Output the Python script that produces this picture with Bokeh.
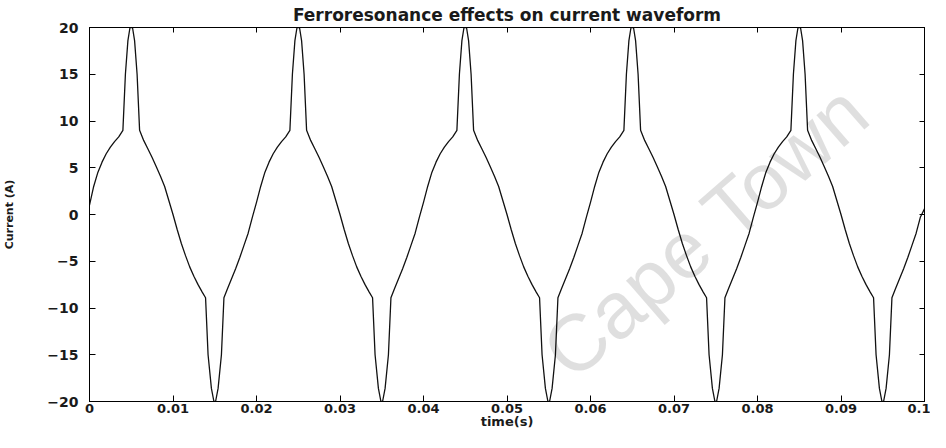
from bokeh.plotting import figure
from bokeh.models import FixedTicker, LinearAxis, Label, CustomJSTickFormatter, Range1d, ColumnDataSource
from bokeh.embed import file_html
from bokeh.resources import INLINE

# ---- data (time in ms, current in A) ----
time_ms = [
    0, 0.5, 1, 1.5, 2, 2.5, 3, 3.5, 4, 4.3, 4.6, 4.85, 5.15, 5.4, 5.7, 6, 6.5, 7, 7.5, 8, 8.5, 9, 9.5, 10,
    10.5, 11, 11.5, 12, 12.5, 13, 13.5, 13.9, 14.2, 14.6, 14.9, 15.1, 15.4, 15.8, 16.1, 16.5, 17, 17.5, 18, 18.5, 19, 19.5,
    20, 20.5, 21, 21.5, 22, 22.5, 23, 23.5, 24, 24.3, 24.6, 24.85, 25.15, 25.4, 25.7, 26, 26.5, 27, 27.5, 28, 28.5, 29, 29.5, 30,
    30.5, 31, 31.5, 32, 32.5, 33, 33.5, 33.9, 34.2, 34.6, 34.9, 35.1, 35.4, 35.8, 36.1, 36.5, 37, 37.5, 38, 38.5, 39, 39.5,
    40, 40.5, 41, 41.5, 42, 42.5, 43, 43.5, 44, 44.3, 44.6, 44.85, 45.15, 45.4, 45.7, 46, 46.5, 47, 47.5, 48, 48.5, 49, 49.5, 50,
    50.5, 51, 51.5, 52, 52.5, 53, 53.5, 53.9, 54.2, 54.6, 54.9, 55.1, 55.4, 55.8, 56.1, 56.5, 57, 57.5, 58, 58.5, 59, 59.5,
    60, 60.5, 61, 61.5, 62, 62.5, 63, 63.5, 64, 64.3, 64.6, 64.85, 65.15, 65.4, 65.7, 66, 66.5, 67, 67.5, 68, 68.5, 69, 69.5, 70,
    70.5, 71, 71.5, 72, 72.5, 73, 73.5, 73.9, 74.2, 74.6, 74.9, 75.1, 75.4, 75.8, 76.1, 76.5, 77, 77.5, 78, 78.5, 79, 79.5,
    80, 80.5, 81, 81.5, 82, 82.5, 83, 83.5, 84, 84.3, 84.6, 84.85, 85.15, 85.4, 85.7, 86, 86.5, 87, 87.5, 88, 88.5, 89, 89.5, 90,
    90.5, 91, 91.5, 92, 92.5, 93, 93.5, 93.9, 94.2, 94.6, 94.9, 95.1, 95.4, 95.8, 96.1, 96.5, 97, 97.5, 98, 98.5, 99, 99.5,
    100,
]
current_a = [
    1.0, 3.0, 4.5, 5.6, 6.5, 7.2, 7.8, 8.3, 9.0, 15.0, 18.6, 20.0, 20.0, 18.6, 15.0, 9.0, 7.9, 7.0, 6.1, 5.1, 4.1, 3.0, 1.5, 0.0,
    -1.6, -3.1, -4.4, -5.6, -6.6, -7.5, -8.3, -8.9, -15.0, -18.6, -20.0, -20.0, -18.6, -15.0, -8.9, -8.0, -6.9, -5.8, -4.6, -3.3, -2.0, -0.3,
    1.3, 3.0, 4.5, 5.6, 6.5, 7.2, 7.8, 8.3, 9.0, 15.0, 18.6, 20.0, 20.0, 18.6, 15.0, 9.0, 7.9, 7.0, 6.1, 5.1, 4.1, 3.0, 1.5, 0.0,
    -1.6, -3.1, -4.4, -5.6, -6.6, -7.5, -8.3, -8.9, -15.0, -18.6, -20.0, -20.0, -18.6, -15.0, -8.9, -8.0, -6.9, -5.8, -4.6, -3.3, -2.0, -0.3,
    1.3, 3.0, 4.5, 5.6, 6.5, 7.2, 7.8, 8.3, 9.0, 15.0, 18.6, 20.0, 20.0, 18.6, 15.0, 9.0, 7.9, 7.0, 6.1, 5.1, 4.1, 3.0, 1.5, 0.0,
    -1.6, -3.1, -4.4, -5.6, -6.6, -7.5, -8.3, -8.9, -15.0, -18.6, -20.0, -20.0, -18.6, -15.0, -8.9, -8.0, -6.9, -5.8, -4.6, -3.3, -2.0, -0.3,
    1.3, 3.0, 4.5, 5.6, 6.5, 7.2, 7.8, 8.3, 9.0, 15.0, 18.6, 20.0, 20.0, 18.6, 15.0, 9.0, 7.9, 7.0, 6.1, 5.1, 4.1, 3.0, 1.5, 0.0,
    -1.6, -3.1, -4.4, -5.6, -6.6, -7.5, -8.3, -8.9, -15.0, -18.6, -20.0, -20.0, -18.6, -15.0, -8.9, -8.0, -6.9, -5.8, -4.6, -3.3, -2.0, -0.3,
    1.3, 3.0, 4.5, 5.6, 6.5, 7.2, 7.8, 8.3, 9.0, 15.0, 18.6, 20.0, 20.0, 18.6, 15.0, 9.0, 7.9, 7.0, 6.1, 5.1, 4.1, 3.0, 1.5, 0.0,
    -1.6, -3.1, -4.4, -5.6, -6.6, -7.5, -8.3, -8.9, -15.0, -18.6, -20.0, -20.0, -18.6, -15.0, -8.9, -8.0, -6.9, -5.8, -4.6, -3.3, -2.0, -0.3,
    0.6,
]
x_ticks = [0, 0.01, 0.02, 0.03, 0.04, 0.05, 0.06, 0.07, 0.08, 0.09, 0.1]
y_ticks = [-20, -15, -10, -5, 0, 5, 10, 15, 20]

title_text = "Ferroresonance effects on current waveform"
x_label = "time(s)"
y_label = "Current (A)"
watermark = "Cape Town"

time_s = [t / 1000.0 for t in time_ms]
src = ColumnDataSource(data=dict(t=time_s, i=current_a))

FONT = "DejaVu Sans"

p = figure(width=930, height=432, output_backend="svg", toolbar_location=None,
           x_range=Range1d(0, 0.1), y_range=Range1d(-20, 20),
           title=title_text, x_axis_label=x_label, y_axis_label=y_label,
           min_border_left=86, min_border_right=6, min_border_top=25, min_border_bottom=31)
p.xgrid.visible = False
p.ygrid.visible = False
p.outline_line_color = "black"
p.outline_line_width = 1
p.background_fill_color = "white"
p.border_fill_color = "white"

p.title.align = "center"
p.title.text_font = FONT
p.title.text_font_size = "17px"
p.title.text_font_style = "bold"
p.title.text_color = "#1a1a1a"
p.title.standoff = 5

xt = FixedTicker(ticks=x_ticks)
yt = FixedTicker(ticks=y_ticks)
p.xaxis.ticker = xt
p.yaxis.ticker = yt
p.xaxis.formatter = CustomJSTickFormatter(code="return String(Math.round(tick*100)/100);")

for ax in p.xaxis + p.yaxis:
    ax.major_tick_in = 6
    ax.major_tick_out = 0
    ax.minor_tick_line_color = None
    ax.axis_line_color = "black"
    ax.major_tick_line_color = "black"
    ax.major_label_text_font = FONT
    ax.major_label_text_font_size = "14px"
    ax.major_label_text_font_style = "bold"
    ax.major_label_text_color = "#1a1a1a"
    ax.axis_label_text_font = FONT
    ax.axis_label_text_font_style = "bold"
    ax.axis_label_text_color = "#1a1a1a"

p.xaxis.major_label_text_font_size = "13px"
p.xaxis.major_label_standoff = 2
p.xaxis.axis_label_text_font_size = "13px"
p.xaxis.axis_label_standoff = -2
p.yaxis.major_label_standoff = 11
p.yaxis.axis_label_text_font_size = "11px"
p.yaxis.axis_label_standoff = 28

empty = CustomJSTickFormatter(code="return '';")
top = LinearAxis(ticker=xt, formatter=empty, major_tick_in=5, major_tick_out=0,
                 minor_tick_line_color=None, major_label_standoff=0,
                 major_label_text_font_size="0px", axis_line_color="black")
right = LinearAxis(ticker=yt, formatter=empty, major_tick_in=5, major_tick_out=0,
                   minor_tick_line_color=None, major_label_standoff=0,
                   major_label_text_font_size="0px", axis_line_color="black")
p.add_layout(top, "above")
p.add_layout(right, "right")

# faint watermark (semi-transparent so the curve stays dark where it crosses)
wm = Label(x=0.0592, y=-19.4, text=watermark, angle=41, angle_units="deg",
           text_font="Liberation Sans", text_font_size="80px", text_color="black",
           text_alpha=0.125, level="overlay")
p.add_layout(wm)

p.line("t", "i", source=src, line_color="#111111", line_width=1.3)

open("out.html", "w").write(file_html(p, INLINE))
